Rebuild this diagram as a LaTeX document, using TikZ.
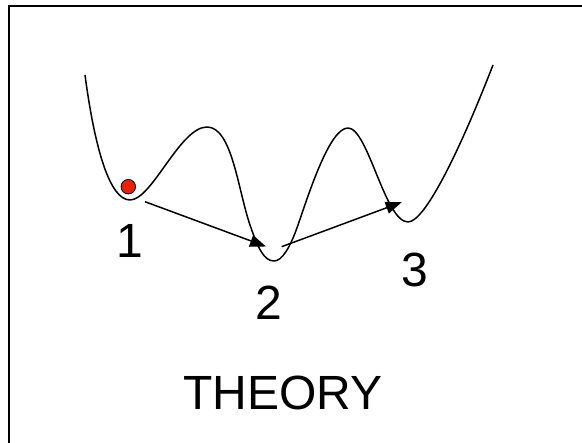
\documentclass[tikz,border=0pt]{standalone}
\usepackage{fontspec}
\setmainfont{Liberation Sans}
\usetikzlibrary{arrows.meta}
\definecolor{balls}{RGB}{232,36,8}
\begin{document}
\begin{tikzpicture}[x=1pt,y=-1pt,
  curveline/.style={line width=1.5pt, line join=round},
  jump/.style={line width=1.5pt, -{Triangle[length=16pt,width=12pt]}},
  lbl/.style={anchor=base, inner sep=0pt, font=\fontsize{48}{58}\selectfont},
  ball/.style={circle, draw=black, line width=0.8pt, fill=balls, minimum size=14.5pt, inner sep=0pt}]
\useasboundingbox (0,0) rectangle (582,443);
\draw[line width=1.5pt] (9,445) -- (9,6) -- (584,6);
\draw[curveline] (85,75) .. controls (95,150) and (110,200) .. (130,200)
  .. controls (152,200) and (180,127) .. (207,127)
  .. controls (232,127) and (238,190) .. (250,225)
  .. controls (258,248.3) and (264,261) .. (274,261)
  .. controls (282,261) and (290,248) .. (298,225)
  .. controls (310,190) and (330,128) .. (348,128)
  .. controls (368,128) and (385,222) .. (408,222)
  .. controls (425,222) and (460,150) .. (493,65);
\node[ball] (dot) at (128.3,186.7) {};
\coordinate (s1) at (145,201.7);
\coordinate (e1) at (266,246.5);
\coordinate (s2) at (281.7,246.7);
\coordinate (e2) at (401.7,202.2);
\draw[jump] (s1) -- (e1);
\draw[jump] (s2) -- (e2);
\node[lbl] (n1) at (130,258) {1};
\node[lbl] (n2) at (268.7,320) {2};
\node[lbl] (n3) at (415,287) {3};
\node[lbl] (title) at (283,410) {THEORY};
\end{tikzpicture}
\end{document}
